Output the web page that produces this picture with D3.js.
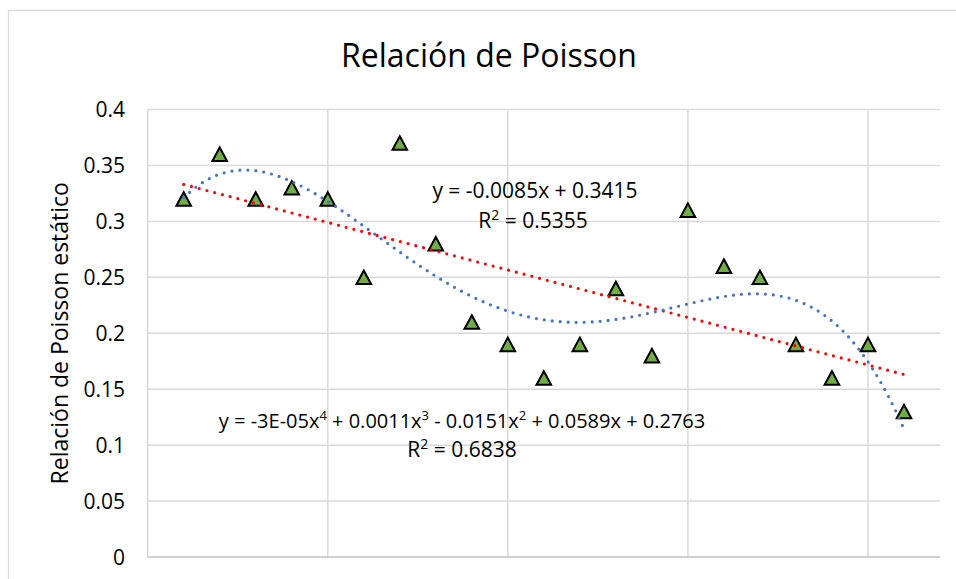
<!DOCTYPE html>
<html>
<head>
<meta charset="utf-8">
<script src="https://cdn.jsdelivr.net/npm/d3@7"></script>
<style>
  html, body { margin: 0; padding: 0; background: #fff; }
  svg { display: block; font-family: "Open Sans", sans-serif; }
</style>
</head>
<body>
<svg id="chart" width="956" height="579"></svg>
<script>
// values
var xValues = [1, 2, 3, 4, 5, 6, 7, 8, 9, 10, 11, 12, 13, 14, 15, 16, 17, 18, 19, 20, 21]
var yValues = [0.32, 0.36, 0.32, 0.33, 0.32, 0.25, 0.37, 0.28, 0.21, 0.19, 0.16,
               0.19, 0.24, 0.18, 0.31, 0.26, 0.25, 0.19, 0.16, 0.19, 0.13]
var yTicks = [0, 0.05, 0.1, 0.15, 0.2, 0.25, 0.3, 0.35, 0.4]
var xGrid = [0, 5, 10, 15, 20]
var titleText = 'Relación de Poisson'
var yTitleText = 'Relación de Poisson estático'
var linEq = 'y = -0.0085x + 0.3415'
var linR2 = '0.5355'
var polyEqParts = [['y = -3E-05x', '4'], [' + 0.0011x', '3'], [' - 0.0151x', '2'], [' + 0.0589x + 0.2763', null]]
var polyR2 = '0.6838'

;(function () {
  'use strict'

  var svg = d3.select('#chart')
  var plot = { left: 147.7, right: 940, top: 109.5, bottom: 557 }

  var x = d3.scaleLinear().domain([0, 22]).range([plot.left, plot.right])
  var y = d3.scaleLinear().domain([0, 0.4]).range([plot.bottom, plot.top])

  // chart frame
  svg.append('rect')
    .attr('x', 8.5).attr('y', 10.5)
    .attr('width', 1000).attr('height', 1000)
    .attr('fill', '#fff').attr('stroke', '#d9d9d9').attr('stroke-width', 1.3)

  // gridlines
  svg.append('g').selectAll('line').data(yTicks.slice(1)).enter().append('line')
    .attr('x1', plot.left).attr('x2', plot.right)
    .attr('y1', function (d) { return y(d) }).attr('y2', function (d) { return y(d) })
    .attr('stroke', '#d9d9d9').attr('stroke-width', 1.5)

  svg.append('g').selectAll('line').data(xGrid).enter().append('line')
    .attr('x1', function (d) { return x(d) }).attr('x2', function (d) { return x(d) })
    .attr('y1', plot.top).attr('y2', plot.bottom)
    .attr('stroke', '#d9d9d9').attr('stroke-width', 1.5)

  // bottom axis line
  svg.append('line')
    .attr('x1', plot.left).attr('x2', plot.right)
    .attr('y1', y(0)).attr('y2', y(0))
    .attr('stroke', '#bfbfbf').attr('stroke-width', 1.5)

  // y tick labels
  svg.append('g').selectAll('text').data(yTicks).enter().append('text')
    .attr('x', 125).attr('y', function (d) { return y(d) })
    .attr('dy', '0.36em')
    .attr('text-anchor', 'end')
    .attr('font-size', 21).attr('fill', '#000')
    .text(function (d) { return d3.format('~g')(d) })

  // title
  svg.append('text')
    .attr('x', 489).attr('y', 67)
    .attr('text-anchor', 'middle')
    .attr('font-size', 32).attr('fill', '#000')
    .text(titleText)

  svg.append('text')
    .attr('transform', 'translate(68,' + ((plot.top + plot.bottom) / 2) + ') rotate(-90)')
    .attr('text-anchor', 'middle')
    .attr('font-size', 23).attr('fill', '#000')
    .text(yTitleText)

  // trendlines fitted to the data
  function polyfit(xs, ys, deg) {
    var n = deg + 1
    var A = [], b = []
    for (var i = 0; i < n; i++) {
      A.push([])
      for (var j = 0; j < n; j++) {
        A[i].push(d3.sum(xs, function (v) { return Math.pow(v, i + j) }))
      }
      b.push(d3.sum(xs, function (v, k) { return ys[k] * Math.pow(v, i) }))
    }
    for (var c = 0; c < n; c++) {
      var p = c
      for (var r = c + 1; r < n; r++) if (Math.abs(A[r][c]) > Math.abs(A[p][c])) p = r
      var t = A[c]; A[c] = A[p]; A[p] = t
      var tb = b[c]; b[c] = b[p]; b[p] = tb
      for (r = c + 1; r < n; r++) {
        var f = A[r][c] / A[c][c]
        for (var k = c; k < n; k++) A[r][k] -= f * A[c][k]
        b[r] -= f * b[c]
      }
    }
    var coef = new Array(n)
    for (var i2 = n - 1; i2 >= 0; i2--) {
      var s = b[i2]
      for (var k2 = i2 + 1; k2 < n; k2++) s -= A[i2][k2] * coef[k2]
      coef[i2] = s / A[i2][i2]
    }
    return function (v) {
      var out = 0
      for (var q = 0; q < n; q++) out += coef[q] * Math.pow(v, q)
      return out
    }
  }

  var linFn = polyfit(xValues, yValues, 1)
  var polyFn = polyfit(xValues, yValues, 4)
  var x0 = d3.min(xValues), x1 = d3.max(xValues)
  var samples = []
  for (var s = 0; s <= 200; s++) samples.push(x0 + (x1 - x0) * s / 200)

  var line = d3.line()
    .x(function (d) { return x(d[0]) })
    .y(function (d) { return y(d[1]) })

  // markers
  var tri = 'M0,-6.8L7.3,6.8L-7.3,6.8Z'
  svg.append('g').selectAll('path').data(xValues).enter().append('path')
    .attr('d', tri)
    .attr('transform', function (d, i) { return 'translate(' + x(d) + ',' + y(yValues[i]) + ')' })
    .attr('fill', '#70ad47').attr('stroke', '#000').attr('stroke-width', 2)
    .attr('stroke-linejoin', 'miter')

  svg.append('path')
    .datum(samples.map(function (v) { return [v, linFn(v)] }))
    .attr('d', line)
    .attr('fill', 'none').attr('stroke', '#ff0000').attr('stroke-width', 3.2)
    .attr('stroke-linecap', 'round').attr('stroke-dasharray', '0,8')

  svg.append('path')
    .datum(samples.map(function (v) { return [v, polyFn(v)] }))
    .attr('d', line)
    .attr('fill', 'none').attr('stroke', '#4472c4').attr('stroke-width', 3.2)
    .attr('stroke-linecap', 'round').attr('stroke-dasharray', '0,8')

  // trendline labels
  function r2Label(cx, cy, val) {
    var t = svg.append('text').attr('x', cx).attr('y', cy)
      .attr('text-anchor', 'middle').attr('font-size', 21).attr('fill', '#000')
    t.append('tspan').text('R')
    t.append('tspan').attr('font-size', 14).attr('dy', -8).text('2')
    t.append('tspan').attr('dy', 8).text(' = ' + val)
  }

  svg.append('text')
    .attr('x', 535).attr('y', 198)
    .attr('text-anchor', 'middle').attr('font-size', 21).attr('fill', '#000')
    .text(linEq)
  r2Label(533, 228, linR2)

  var pt = svg.append('text')
    .attr('x', 462).attr('y', 428)
    .attr('text-anchor', 'middle').attr('font-size', 20).attr('fill', '#000')
  polyEqParts.forEach(function (part) {
    pt.append('tspan').attr('dy', part === polyEqParts[0] ? 0 : 8).text(part[0])
    if (part[1]) pt.append('tspan').attr('font-size', 13).attr('dy', -8).text(part[1])
  })
  r2Label(462, 457, polyR2)

})()
</script>
</body>
</html>
